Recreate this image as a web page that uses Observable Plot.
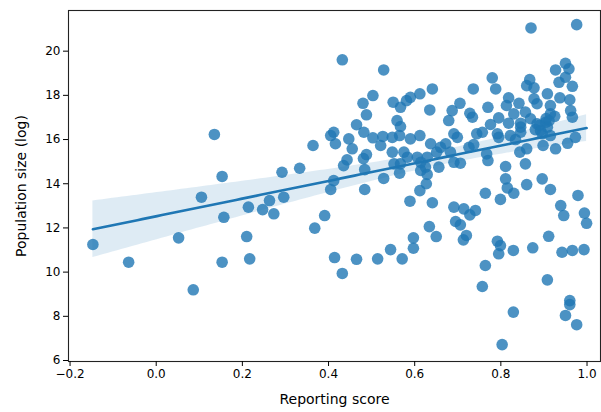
<!DOCTYPE html>
<html>
<head>
<meta charset="utf-8">
<script src="https://cdn.jsdelivr.net/npm/d3@7"></script>
<script src="https://cdn.jsdelivr.net/npm/@observablehq/plot@0.6"></script>
<style>
  html, body { margin: 0; padding: 0; background: #fff; }
  #chart { width: 601px; height: 412px; }
</style>
</head>
<body>
<div id="chart"></div>
<script>
// Reporting score (x) and log population size (y)
const reportingScore = [
  -0.147,-0.064,0.052,0.105,0.135,0.153,0.157,0.153,0.086,0.214,
  0.247,0.263,0.296,0.273,0.210,0.217,0.391,0.368,0.414,0.432,
  0.465,0.292,0.333,0.364,0.412,0.405,0.432,0.412,0.405,0.416,
  0.447,0.455,0.443,0.435,0.465,0.480,0.482,0.484,0.484,0.488,
  0.481,0.528,0.503,0.488,0.503,0.526,0.521,0.550,0.567,0.581,
  0.590,0.612,0.641,0.635,0.559,0.567,0.548,0.565,0.590,0.612,
  0.548,0.575,0.583,0.567,0.552,0.606,0.637,0.660,0.672,0.651,
  0.683,0.629,0.614,0.625,0.656,0.691,0.706,0.691,0.699,0.687,
  0.705,0.679,0.728,0.734,0.736,0.744,0.726,0.737,0.528,0.565,
  0.614,0.629,0.612,0.627,0.589,0.641,0.691,0.714,0.728,0.741,
  0.695,0.706,0.634,0.650,0.597,0.597,0.544,0.571,0.514,0.720,
  0.713,0.757,0.870,0.976,0.780,0.788,0.867,0.860,0.877,0.927,
  0.950,0.958,0.950,0.935,0.966,0.818,0.813,0.842,0.877,0.908,
  0.937,0.960,0.770,0.884,0.915,0.915,0.962,0.966,0.830,0.857,
  0.795,0.776,0.818,0.846,0.869,0.884,0.904,0.908,0.892,0.846,
  0.757,0.792,0.822,0.846,0.896,0.915,0.767,0.770,0.811,0.857,
  0.844,0.860,0.898,0.927,0.955,0.973,0.811,0.896,0.815,0.830,
  0.860,0.915,0.764,0.799,0.939,0.946,0.979,0.994,0.999,0.792,
  0.799,0.795,0.829,0.874,0.911,0.942,0.966,0.993,0.764,0.908,
  0.960,0.960,0.950,0.976,0.829,0.803,0.834,0.880,0.795,0.905,
  0.912,0.890,0.925
];
const populationLog = [
  11.25,10.45,11.55,13.39,16.23,14.33,12.48,10.45,9.20,12.94,
  12.83,13.24,13.39,12.64,11.61,10.60,12.56,11.99,10.66,9.94,
  10.58,14.52,14.70,15.73,14.14,13.74,19.61,16.33,16.18,15.81,
  16.03,15.58,15.08,14.82,16.67,17.64,16.33,13.74,14.64,15.32,
  15.14,19.15,17.99,17.12,16.08,16.14,15.73,17.69,17.46,17.76,
  17.91,18.07,18.29,17.34,16.86,16.59,16.10,16.18,16.03,16.18,
  15.43,15.43,15.20,14.90,14.90,15.20,15.81,15.65,15.81,15.43,
  15.43,15.20,14.97,14.75,14.75,14.97,14.93,16.26,16.10,17.31,
  17.64,16.86,17.19,17.01,18.29,16.26,15.65,15.77,14.24,14.48,
  14.60,14.42,13.69,14.00,13.21,13.14,12.94,12.86,12.59,12.79,
  12.29,12.14,12.06,11.61,11.55,11.08,11.02,10.60,10.60,11.66,
  11.46,9.35,21.05,21.20,18.79,18.29,18.71,18.44,18.34,19.15,
  19.45,19.20,18.82,18.59,18.41,17.89,17.54,17.64,17.84,18.07,
  17.89,17.80,17.46,17.62,17.54,17.16,17.31,17.01,17.16,17.24,
  16.98,16.68,16.74,16.74,16.94,16.71,16.78,16.56,16.41,16.56,
  16.33,16.26,16.18,16.33,16.26,16.18,15.35,15.05,14.78,14.90,
  15.43,15.58,15.73,15.58,15.83,16.10,14.22,14.22,13.81,13.57,
  13.96,13.74,13.57,13.29,13.01,12.56,13.47,12.67,12.21,11.40,
  11.20,10.83,10.98,11.10,11.62,10.90,10.98,11.02,10.30,9.65,
  8.71,8.53,8.04,7.62,8.19,6.72,16.00,16.45,16.10,16.95,
  16.85,16.65,17.05
];
const xTicks = [-0.2, 0.0, 0.2, 0.4, 0.6, 0.8, 1.0];
const yTicks = [6, 8, 10, 12, 14, 16, 18, 20];

const points = reportingScore.map((x, i) => ({x, y: populationLog[i]}));
const blue = "#1f77b4";
const fmtX = d => (d < 0 ? "\u2212" : "") + Math.abs(d).toFixed(1);

// Robust (IRLS, Tukey biweight) linear fit of the points
function wls(w) {
  const sw = d3.sum(w);
  const mx = d3.sum(reportingScore, (x, i) => w[i] * x) / sw;
  const my = d3.sum(populationLog, (y, i) => w[i] * y) / sw;
  let sxx = 0, sxy = 0;
  reportingScore.forEach((x, i) => { sxx += w[i] * (x - mx) ** 2; sxy += w[i] * (x - mx) * (populationLog[i] - my); });
  const b = sxy / sxx;
  return {a: my - b * mx, b, mx, sxx, sw};
}
let w = reportingScore.map(() => 1);
let fit = wls(w), scale = 1;
for (let k = 0; k < 80; k++) {
  const r = reportingScore.map((x, i) => populationLog[i] - (fit.a + fit.b * x));
  const med = d3.median(r);
  scale = d3.median(r, v => Math.abs(v - med)) / 0.6745;
  w = r.map(v => { const u = v / (4.685 * scale); return Math.abs(u) < 1 ? (1 - u * u) ** 2 : 0; });
  fit = wls(w);
}
const [x0, x1] = d3.extent(reportingScore);
const n = reportingScore.length;
const grid = d3.range(0, 101).map(i => x0 + (x1 - x0) * i / 100);
const fitted = grid.map(x => {
  const yhat = fit.a + fit.b * x;
  const se = scale * Math.sqrt(1 / n + (x - fit.mx) ** 2 / fit.sxx);
  return {x, y: yhat, lo: yhat - 2.2 * se, hi: yhat + 2.2 * se};
});

const chart = Plot.plot({
  width: 601,
  height: 412,
  marginLeft: 68,
  marginRight: 1,
  marginTop: 10,
  marginBottom: 51,
  style: {fontFamily: "DejaVu Sans", fontSize: "12px", color: "#000", background: "#fff"},
  x: {domain: [-0.2036, 1.0313]},
  y: {domain: [5.955, 21.84]},
  marks: [
    Plot.dot(points, {x: "x", y: "y", r: 5.8, fill: blue, fillOpacity: 0.8, stroke: "none"}),
    Plot.areaY(fitted, {x: "x", y1: "lo", y2: "hi", fill: blue, fillOpacity: 0.15}),
    Plot.line(fitted, {x: "x", y: "y", stroke: blue, strokeWidth: 2.6}),
    Plot.frame({stroke: "#222", strokeWidth: 1.1}),
    Plot.axisX({ticks: xTicks, tickFormat: fmtX, tickSize: 5, tickPadding: 3, fontSize: 12,
      label: "Reporting score", labelAnchor: "center", labelArrow: "none", labelOffset: 42}),
    Plot.axisY({ticks: yTicks, tickSize: 5, tickPadding: 3, fontSize: 12,
      label: "Population size (log)", labelAnchor: "center", labelArrow: "none", labelOffset: 52})
  ]
});
chart.querySelectorAll("[aria-label='x-axis label'] text, [aria-label='y-axis label'] text").forEach(t => t.setAttribute("font-size", "14"));
document.getElementById("chart").appendChild(chart);
</script>
</body>
</html>
